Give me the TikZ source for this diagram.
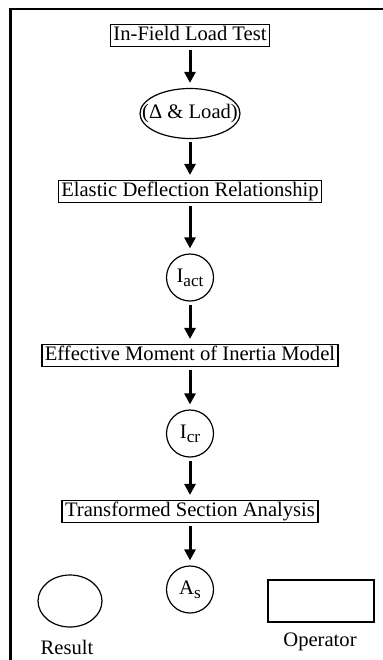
\documentclass[tikz,border=0pt]{standalone}
\usepackage{fontspec}
\setmainfont{Liberation Serif}
\usetikzlibrary{arrows.meta,shapes.geometric}
\newcommand{\lowsub}[1]{\raisebox{-0.4ex}{\fontsize{8.6}{9}\selectfont #1}}

\begin{document}
\begin{tikzpicture}[x=0.5pt, y=-0.5pt, node distance={39pt}, font=\fontsize{10.3}{12}\selectfont,
	op/.style = {draw, line width=0.75pt, inner xsep=1.5pt, inner ysep=0.6pt, text height=7.4pt, text depth=2.2pt},
	res/.style = {draw, circle, line width=0.6pt, minimum size=23.5pt, inner sep=0pt},
	flow/.style = {-{Triangle[width=5.5pt,length=5.5pt]}, line width=1.5pt, shorten <=1.5pt, shorten >=2.5pt}]
			\useasboundingbox (0,0) rectangle (383,660);
			\draw[line width=1.4pt] (10.5,660) -- (10.5,9) -- (383,9);
			\node[op] (1) at (190,35.5) {In-Field Load Test};
			\node[draw, ellipse, line width=0.6pt, minimum width=50pt, minimum height=25pt, inner sep=0pt] (2) [below of=1] {\makebox[0pt]{(Δ \& Load)}};
			\node[op] (3) [below of=2] {Elastic Deflection Relationship};
			\node[res] (4) [below of=3, node distance=43pt] {I\lowsub{act}};
			\node[op] (5) [below of=4] {Effective Moment of Inertia Model};
			\node[res] (6) [below of=5] {I\lowsub{cr}};
			\node[op] (7) [below of=6] {Transformed Section Analysis};
			\node[res] (8) [below of=7] {A\lowsub{s}};
			% legend
			\node[draw, ellipse, line width=0.6pt, minimum width=32pt, minimum height=26pt] (r) at (70,601) {};
			\node (rl) at (67,647) {Result};
			\node[draw, line width=0.75pt, minimum width=53pt, minimum height=21pt] (o) at (321,601) {};
			\node (ol) at (320,642) {Operator};
			\path[flow]
			(1) edge (2) (2) edge (3) (3) edge (4)
			(4) edge (5) (5) edge (6) (6) edge (7)
			(7) edge (8);
		\end{tikzpicture}
\end{document}
